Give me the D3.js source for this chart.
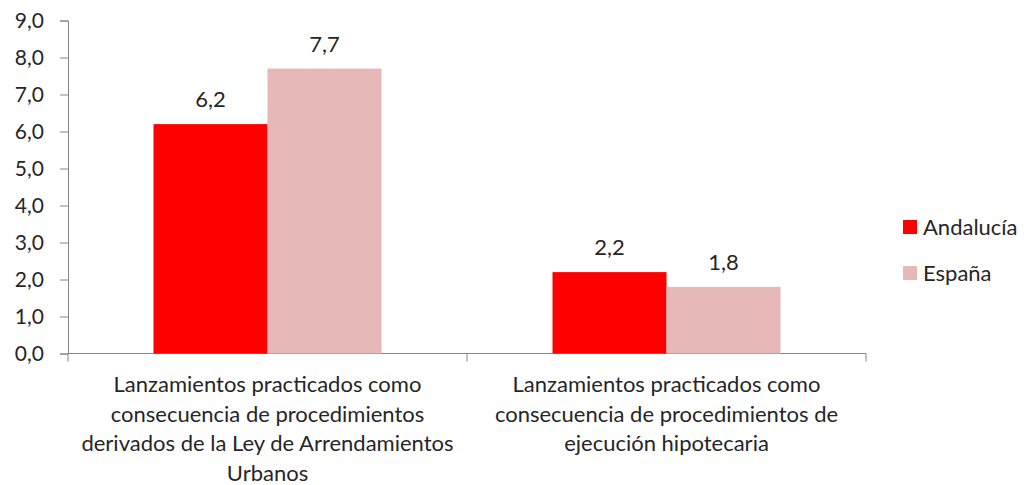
<!DOCTYPE html>
<html>
<head>
<meta charset="utf-8">
<script src="https://cdn.jsdelivr.net/npm/d3@7"></script>
<style>
  body { margin: 0; background: #fff; }
  text { font-family: Lato, "Open Sans", sans-serif; fill: #262626; }
</style>
</head>
<body>
<div id="chart"></div>
<script>
let categories = ["ley", "hipoteca"],
    categoryLines = [
        ["Lanzamientos practicados como", "consecuencia de procedimientos", "derivados de la Ley de Arrendamientos", "Urbanos"],
        ["Lanzamientos practicados como", "consecuencia de procedimientos de", "ejecución hipotecaria"]
    ],
    series = ["Andalucía", "España"],
    andalucia = [6.2, 2.2],
    espana = [7.7, 1.8],
    colors = ["#ff0000", "#e6b9b8"],
    yTicks = [0, 1, 2, 3, 4, 5, 6, 7, 8, 9]

let width = 1024,
    height = 485,
    fontSize = 22,
    svg = d3.select("#chart").append("svg")
        .attr("width", width)
        .attr("height", height)

let fmt = v => d3.format(".1f")(v).replace(".", ",")

//SCALES
let y = d3.scaleLinear().domain([0, 9]).range([353.5, 20.5])
let x0 = d3.scaleBand().domain(categories).range([68, 866]).padding(0)
let x1 = d3.scaleBand().domain(series).range([0, x0.bandwidth()]).paddingInner(0).paddingOuter(0.75)
let color = d3.scaleOrdinal().domain(series).range(colors)

let rows = categories.map((c, i) => ({cat: c, values: [
    {s: series[0], v: andalucia[i]},
    {s: series[1], v: espana[i]}
]}))

//Y AXIS
let yAxis = svg.append("g")
    .attr("transform", "translate(68,0)")
    .call(d3.axisLeft(y).tickValues(yTicks).tickFormat(fmt).tickSize(8).tickPadding(16))
yAxis.selectAll("path, line").attr("stroke", "#868686")
yAxis.selectAll("text").style("font-size", "21px").style("font-family", "Lato")
    .attr("fill", "#262626")

//X AXIS
let xAxis = svg.append("g")
xAxis.append("line")
    .attr("x1", x0.range()[0]).attr("x2", x0.range()[1])
    .attr("y1", y(0)).attr("y2", y(0))
    .attr("stroke", "#868686")
let bounds = categories.map(c => x0(c)).concat([x0.range()[1]])
xAxis.selectAll(".xt").data(bounds).enter().append("line")
    .attr("x1", d => d).attr("x2", d => d)
    .attr("y1", y(0)).attr("y2", y(0) + 8)
    .attr("stroke", "#868686")

//BARS
let groups = svg.append("g").selectAll("g")
    .data(rows).enter().append("g")
    .attr("transform", d => "translate(" + x0(d.cat) + ",0)")
groups.selectAll("rect")
    .data(d => d.values).enter().append("rect")
    .attr("x", d => x1(d.s))
    .attr("width", x1.bandwidth())
    .attr("y", d => y(d.v))
    .attr("height", d => y(0) - y(d.v))
    .attr("fill", d => color(d.s))
groups.selectAll("text")
    .data(d => d.values).enter().append("text")
    .attr("x", d => x1(d.s) + x1.bandwidth() / 2)
    .attr("y", d => y(d.v) - 17)
    .attr("text-anchor", "middle")
    .style("font-size", fontSize + "px")
    .text(d => fmt(d.v))

//CATEGORY LABELS
categories.forEach((c, i) => {
    let t = svg.append("text")
        .attr("text-anchor", "middle")
        .style("font-size", fontSize + "px")
    categoryLines[i].forEach((line, j) => {
        t.append("tspan")
            .attr("x", x0(c) + x0.bandwidth() / 2)
            .attr("y", 392 + j * 29.5)
            .text(line)
    })
})

//LEGEND
let legend = svg.append("g").selectAll("g")
    .data(series).enter().append("g")
    .attr("transform", (d, i) => "translate(903," + (220 + i * 46) + ")")
legend.append("rect")
    .attr("width", 14).attr("height", 14)
    .attr("fill", d => color(d))
legend.append("text")
    .attr("x", 20).attr("y", 15)
    .style("font-size", fontSize + "px")
    .text(d => d)
</script>
</body>
</html>
